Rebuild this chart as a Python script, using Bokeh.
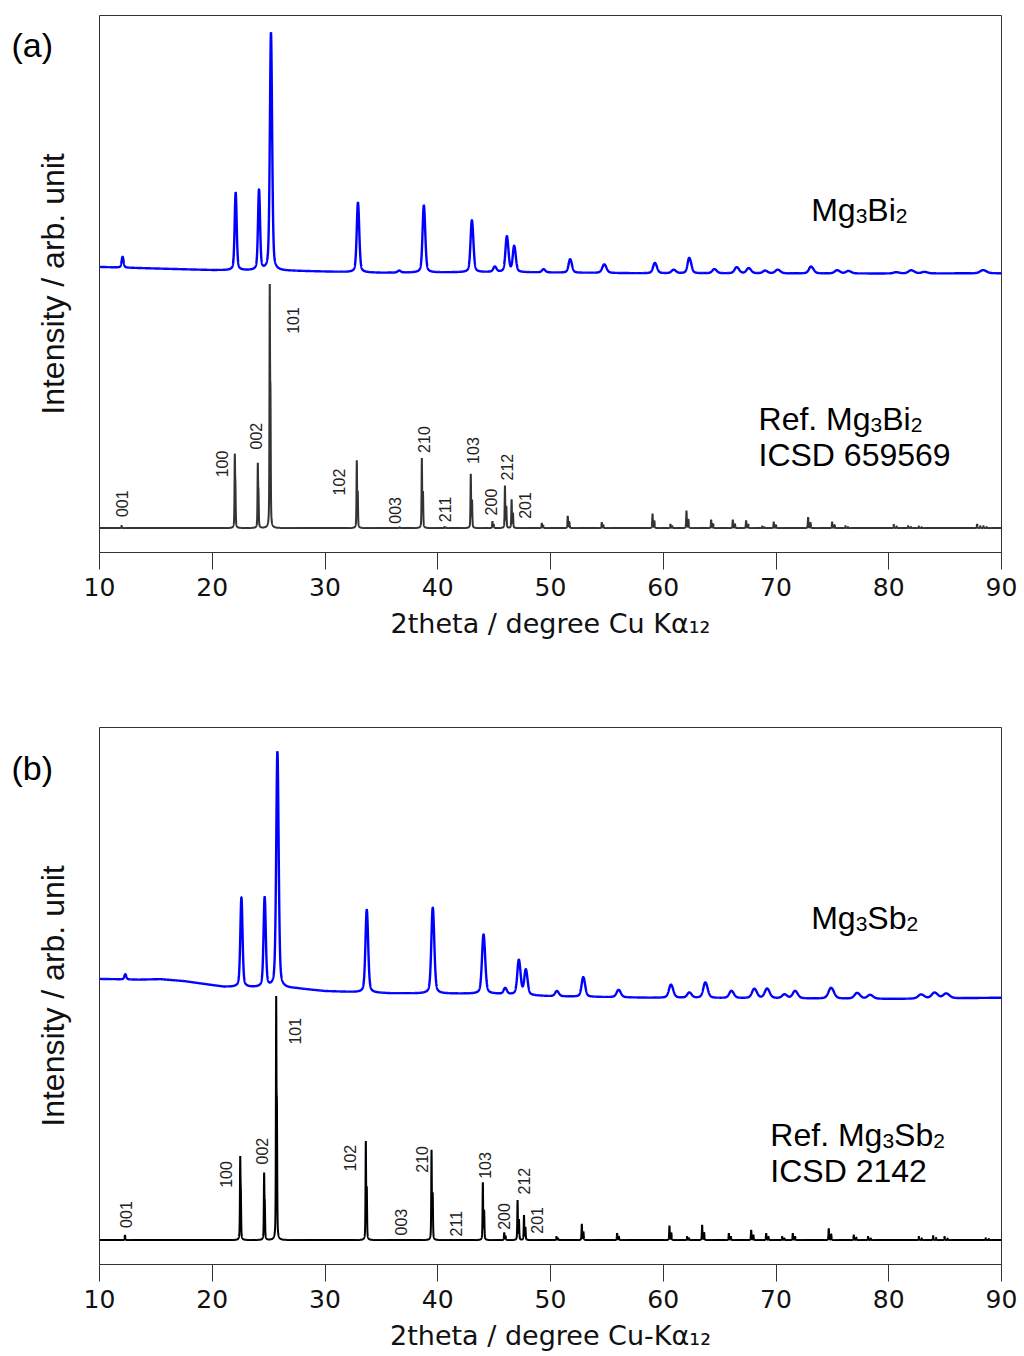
import numpy as np
from bokeh.plotting import figure
from bokeh.models import Range1d, Label, FixedTicker, ColumnDataSource
from bokeh.layouts import column
from bokeh.core.properties import value
from bokeh.embed import file_html
from bokeh.resources import INLINE

# ---------------- data ----------------
X_TICKS = [10, 20, 30, 40, 50, 60, 70, 80, 90]

# (a) measured Mg3Bi2 : baseline and peaks (relative intensity, 101 = 100)
a_base_x = [10, 20, 27, 35, 45, 58, 80, 90]
a_base_y = [107.0, 105.7, 105.4, 104.6, 104.9, 104.4, 104.3, 104.4]
a_obs_pos = [12.04, 22.06, 24.13, 25.19, 32.9, 36.55, 38.74, 43.0, 45.03, 46.1, 46.75,
             49.35, 51.71, 54.73, 59.22, 60.88, 62.27, 64.49, 66.47, 67.53, 68.98, 70.1,
             73.06, 75.37, 76.37, 80.6, 81.93, 83.1, 88.3]
a_obs_int = [4.5, 32, 33, 98, 28.6, 0.8, 27.5, 21.2, 2.1, 14.5, 10.5,
             1.3, 5.5, 3.5, 4.2, 1.4, 6.3, 1.7, 2.5, 2.1, 1.1, 1.5,
             2.8, 1.3, 1.0, 0.5, 1.3, 0.6, 1.3]
a_obs_fwhm = [0.2, 0.2, 0.2, 0.22, 0.24, 0.3, 0.25, 0.26, 0.3, 0.27, 0.27,
              0.3, 0.3, 0.4, 0.35, 0.4, 0.32, 0.4, 0.4, 0.4, 0.4, 0.45,
              0.4, 0.45, 0.45, 0.5, 0.5, 0.5, 0.55]

# (a) reference ICSD 659569
a_ref_pos = [11.95, 22.0, 24.04, 25.1, 32.82, 36.6, 38.59, 40.6, 42.93, 44.85, 45.96,
             46.55, 49.23, 51.53, 54.55, 59.05, 60.64, 62.06, 64.25, 66.17, 67.35,
             68.77, 69.8, 72.85, 74.98, 76.16, 80.45, 81.72, 82.67, 87.84, 88.4]
a_ref_int = [0.9, 30.4, 26.7, 100, 27.8, 0.3, 28.7, 0.5, 22.2, 2.7, 17.4,
             11.7, 2.0, 5.0, 2.3, 5.9, 1.6, 7.1, 3.4, 3.4, 3.1,
             0.7, 2.5, 4.5, 2.5, 0.9, 1.4, 0.9, 0.7, 1.6, 0.9]
a_hkl = ["001", "100", "002", "101", "102", "003", "210", "211", "103", "200", "212", "201"]
a_hkl_x = [12.01, 20.88, 23.9, 27.14, 31.22, 36.25, 38.76, 40.6, 43.11, 44.68, 46.1, 47.78]
a_hkl_y = [4.5, 20.8, 32.2, 79.6, 13.4, 1.8, 30.8, 2.4, 26.3, 5.2, 19.5, 3.8]

# (b) measured Mg3Sb2
b_base_x = [10, 13.5, 15.4, 17.5, 21, 27.5, 30, 35.8, 45, 50, 58.6, 80.7, 90]
b_base_y = [107.0, 106.7, 106.9, 106.1, 103.8, 103.1, 102.0, 101.1, 100.9, 99.9, 99.3, 98.8, 99.3]
b_obs_pos = [12.28, 22.57, 24.63, 25.76, 33.68, 39.53, 44.03, 45.95, 47.16, 47.78, 50.53,
             52.87, 56.0, 60.64, 62.27, 63.69, 66.0, 68.03, 69.16, 70.7, 71.64, 74.83,
             77.14, 78.29, 82.8, 84.0, 85.03]
b_obs_int = [2.2, 38, 38, 100, 34.9, 36.1, 24.9, 2.5, 14.5, 10.5, 2.2,
             8.2, 3.1, 5.5, 2.2, 6.5, 3.0, 3.9, 4.0, 1.6, 3.1, 4.5,
             2.4, 1.6, 1.7, 2.4, 2.0]
b_obs_fwhm = [0.2, 0.22, 0.22, 0.24, 0.26, 0.28, 0.3, 0.3, 0.3, 0.3, 0.35,
              0.32, 0.4, 0.4, 0.4, 0.4, 0.42, 0.45, 0.45, 0.45, 0.45, 0.5,
              0.5, 0.5, 0.55, 0.55, 0.55]

# (b) reference ICSD 2142
b_ref_pos = [12.25, 22.48, 24.6, 25.67, 33.62, 39.45, 44.0, 45.9, 47.08, 47.65, 50.53,
             52.78, 55.91, 60.55, 62.12, 63.45, 65.82, 67.8, 69.13, 70.55, 71.49,
             74.68, 76.9, 78.17, 82.67, 83.94, 84.95, 88.6]
b_ref_int = [1.9, 34.4, 27.6, 100, 40.6, 37.0, 23.7, 3.1, 16.4, 10.2, 1.4,
             6.6, 2.8, 5.9, 1.4, 6.2, 2.8, 4.1, 2.8, 1.4, 2.8,
             4.8, 2.1, 1.4, 1.4, 1.8, 1.4, 0.8]
b_hkl = ["001", "100", "002", "101", "102", "003", "210", "211", "103", "200", "212", "201"]
b_hkl_x = [12.31, 21.18, 24.43, 27.38, 32.2, 36.7, 38.56, 41.64, 44.23, 45.86, 47.63, 48.82]
b_hkl_y = [5.0, 21.4, 31.0, 80.1, 28.1, 1.9, 27.6, 1.5, 25.1, 4.2, 18.7, 2.6]

# ---------------- profile rendering ----------------
X_GRID = np.arange(10.0, 90.0 + 1e-9, 0.005)
LAM_RATIO = 1.54439 / 1.54056


def pv(x, x0, w, eta):
    hw = w / 2.0
    t = (x - x0) / hw
    return eta / (1 + t * t) + (1 - eta) * np.exp(-np.log(2) * t * t)


def pattern(pos, inten, fwhm, eta):
    y = np.zeros_like(X_GRID)
    for x0, I, w in zip(pos, inten, fwhm):
        x2 = 2 * np.degrees(np.arcsin(np.sin(np.radians(x0 / 2)) * LAM_RATIO))
        norm = 1 + 0.5 * pv(x2, x0, w, eta)
        y += I / norm * (pv(X_GRID, x0, w, eta) + 0.5 * pv(X_GRID, x2, w, eta))
    return y


ADV = {"M": 833, "g": 556, "B": 667, "i": 222, "S": 667, "b": 556, "R": 722, "e": 556,
       "f": 278, ".": 278, " ": 278, "I": 278, "C": 722, "D": 722}
for d in "0123456789":
    ADV[d] = 556

FONT = "Liberation Sans"
TICK_FONT = "DejaVu Sans"


def formula(p, x, y, parts, size=32, sub_size=21, drop=6):
    off = 0.0
    for txt, sub in parts:
        fs = sub_size if sub else size
        p.add_layout(Label(x=x, y=y, x_offset=off, y_offset=-drop if sub else 0, text=txt,
                           text_font=FONT, text_font_size=f"{fs}px", text_color="black",
                           text_baseline="alphabetic", text_align="left"))
        off += sum(ADV.get(c, 556) for c in txt) / 1000.0 * fs


def panel(tag, tag_y, tag_side, obs_y, ref_y, ref_color, hkl, hkl_x, hkl_y, xlabel, top, bottom,
          name_parts, name_y, ref_parts, ref_x, ref_y1, icsd, ref_y2):
    p = figure(frame_width=902, frame_height=537, x_range=Range1d(10, 90),
               y_range=Range1d(-10, 210), output_backend="svg", toolbar_location=None,
               min_border_left=99, min_border_right=23, min_border_top=top,
               min_border_bottom=bottom, background_fill_color="white",
               border_fill_color="white")
    p.grid.visible = False
    p.outline_line_color = "#333333"
    p.outline_line_width = 1

    p.line(X_GRID, ref_y, line_color=ref_color, line_width=2)
    p.line(X_GRID, obs_y, line_color="#0000ff", line_width=2.4)

    src = ColumnDataSource(dict(x=hkl_x, y=hkl_y, t=hkl))
    p.text(x="x", y="y", text="t", source=src, angle=np.pi / 2, text_align="left",
           text_baseline="middle", text_font=value(FONT), text_font_size="16px",
           text_color="#222222")

    xa = p.xaxis[0]
    xa.ticker = FixedTicker(ticks=X_TICKS)
    xa.minor_tick_line_color = None
    xa.major_tick_in = 0
    xa.major_tick_out = 17
    xa.major_tick_line_color = "#333333"
    xa.axis_line_color = "#333333"
    xa.major_label_text_font = TICK_FONT
    xa.major_label_text_font_size = "25px"
    xa.major_label_text_color = "#111111"
    xa.major_label_standoff = 8
    xa.axis_label = xlabel
    xa.axis_label_text_font = TICK_FONT
    xa.axis_label_text_font_size = "27px"
    xa.axis_label_text_font_style = "normal"
    xa.axis_label_text_color = "#111111"
    xa.axis_label_standoff = 9

    ya = p.yaxis[0]
    ya.ticker = FixedTicker(ticks=[])
    ya.minor_tick_line_color = None
    ya.major_tick_out = 0
    ya.major_tick_in = 0
    ya.axis_line_color = None
    ya.axis_label = "Intensity / arb. unit"
    ya.axis_label_text_font = FONT
    ya.axis_label_text_font_size = "32px"
    ya.axis_label_text_font_style = "normal"
    ya.axis_label_text_color = "#111111"
    ya.axis_label_standoff = 29

    # panel tag lives in a side panel so it is not clipped to the frame
    p.add_layout(Label(x=11, y=tag_y, x_units="canvas", y_units="canvas", text=tag,
                       text_font=FONT, text_font_size="34px",
                       text_baseline="alphabetic", text_align="left", text_color="black"),
                 tag_side)
    formula(p, 73.12, name_y, name_parts)
    formula(p, ref_x, ref_y1, ref_parts)
    formula(p, ref_x, ref_y2, [(icsd, False)])
    return p


a_obs = np.interp(X_GRID, a_base_x, a_base_y) + 0.975 * pattern(a_obs_pos, a_obs_int, a_obs_fwhm, 0.4)
a_ref = pattern(a_ref_pos, a_ref_int, [0.06] * len(a_ref_pos), 0.5)
b_obs = np.interp(X_GRID, b_base_x, b_base_y) + 0.95 * pattern(b_obs_pos, b_obs_int, b_obs_fwhm, 0.4)
b_ref = pattern(b_ref_pos, b_ref_int, [0.06] * len(b_ref_pos), 0.5)

pa = panel("(a)", 44, "below", a_obs, a_ref, "#333333", a_hkl, a_hkl_x, a_hkl_y,
           "2theta / degree Cu Kα₁₂", 15, 137,
           [("Mg", False), ("3", True), ("Bi", False), ("2", True)], 130.2,
           [("Ref. Mg", False), ("3", True), ("Bi", False), ("2", True)], 68.45, 44.5,
           "ICSD 659569", 29.9)
pb = panel("(b)", 78, "above", b_obs, b_ref, "#000000", b_hkl, b_hkl_x, b_hkl_y,
           "2theta / degree Cu-Kα₁₂", 25, 92,
           [("Mg", False), ("3", True), ("Sb", False), ("2", True)], 132.0,
           [("Ref. Mg", False), ("3", True), ("Sb", False), ("2", True)], 69.5, 43.25,
           "ICSD 2142", 28.3)

layout = column(pa, pb, spacing=0)
open("out.html", "w").write(file_html(layout, INLINE))
